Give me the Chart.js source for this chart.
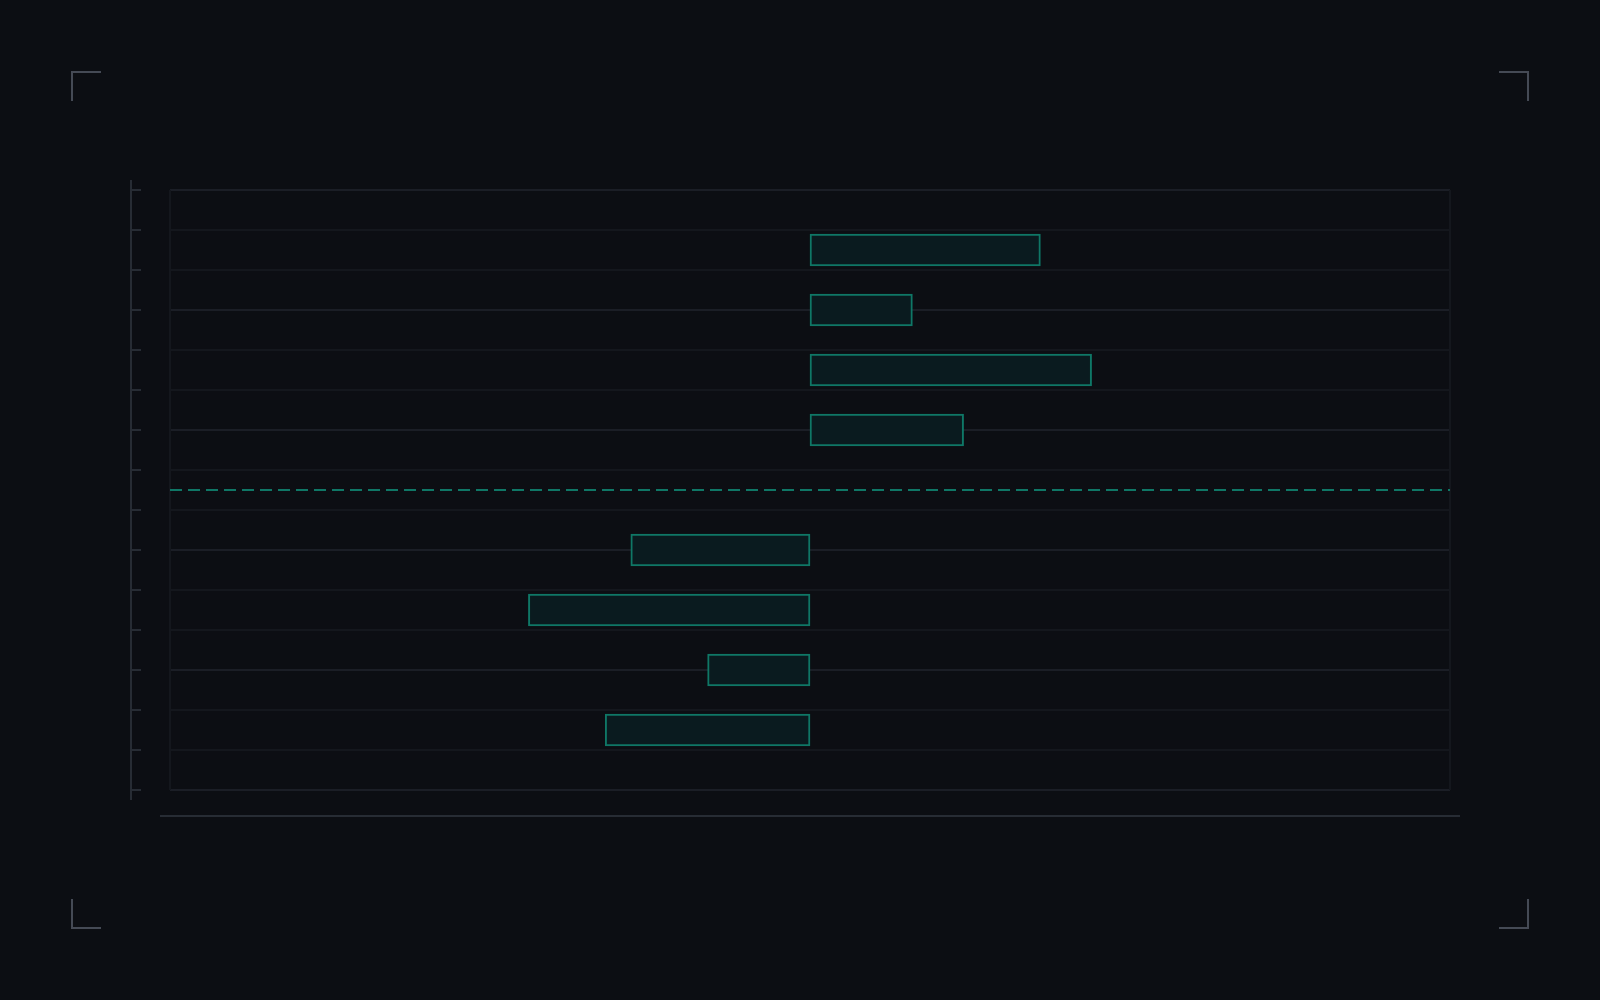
<!DOCTYPE html>
<html lang="en">
  <head>
    <meta charset="UTF-8" />
    <title>Chart</title>
    <script src="https://cdn.jsdelivr.net/npm/chart.js"></script>
    <style>
      html, body { margin: 0; padding: 0; background: #0c0e13; }
      #wrap { position: relative; width: 1600px; height: 1000px; }
      canvas { display: block; }
      .corner { position: absolute; width: 28px; height: 28px; border-color: #454a55; border-style: solid; border-width: 0; }
      .tl { left: 71px; top: 71px; border-left-width: 2px; border-top-width: 2px; }
      .tr { right: 71px; top: 71px; border-right-width: 2px; border-top-width: 2px; }
      .bl { left: 71px; bottom: 71px; border-left-width: 2px; border-bottom-width: 2px; }
      .br { right: 71px; bottom: 71px; border-right-width: 2px; border-bottom-width: 2px; }
    </style>
  </head>
  <body>
    <div id="wrap">
      <canvas id="chart" width="1600" height="1000"></canvas>
      <div class="corner tl"></div>
      <div class="corner tr"></div>
      <div class="corner bl"></div>
      <div class="corner br"></div>
    </div>

    <script>
      // rows from top to bottom, value is signed deviation from the centre line
      const categories = ["A", "B", "C", "D", "E", "F", "G", "H"];
      const rowPos = [9, 8, 7, 6, 4, 3, 2, 1];
      const values = [36, 16, 44, 24, -28, -44, -16, -32];
      const baseline = 5;
      // 16 grid/tick positions on the 0..10 row scale
      const yTicks = [0, 2/3, 4/3, 2, 8/3, 10/3, 4, 14/3, 16/3, 6, 20/3, 22/3, 8, 26/3, 28/3, 10];

      const teal = "#0f7766";
      const grid = "#14171d";
      const gridMajor = "#1b1e26";
      const axis = "#272c34";

      // frame, left axis with tick marks and the bottom rule
      const decor = {
        id: "decor",
        beforeDatasetsDraw(chart) {
          const { ctx, chartArea: a } = chart;
          ctx.save();
          ctx.strokeStyle = grid;
          ctx.lineWidth = 2;
          ctx.beginPath();
          ctx.moveTo(a.left, a.top); ctx.lineTo(a.left, a.bottom);
          ctx.moveTo(a.right, a.top); ctx.lineTo(a.right, a.bottom);
          ctx.stroke();
          ctx.restore();
        },
        afterDraw(chart) {
          const { ctx, chartArea: a, scales } = chart;
          const y = scales.y;
          ctx.save();
          ctx.strokeStyle = axis;
          ctx.lineWidth = 2;
          const ax = a.left - 39;
          ctx.beginPath();
          ctx.moveTo(ax, a.top - 10); ctx.lineTo(ax, a.bottom + 10);
          y.ticks.forEach(t => {
            const py = Math.round(y.getPixelForValue(t.value));
            ctx.moveTo(ax, py); ctx.lineTo(ax + 10, py);
          });
          ctx.moveTo(a.left - 10, a.bottom + 26); ctx.lineTo(a.right + 10, a.bottom + 26);
          ctx.stroke();
          ctx.restore();
        }
      };

      new Chart(document.getElementById("chart"), {
        type: "bar",
        data: {
          labels: categories,
          datasets: [
            {
              type: "line",
              data: [{ x: -100, y: baseline }, { x: 100, y: baseline }],
              borderColor: teal,
              borderWidth: 2,
              borderDash: [12, 6],
              pointRadius: 0,
              order: 0
            },
            {
              data: values.map((v, i) => ({ x: [0, v], y: rowPos[i] })),
              backgroundColor: "#0a1b1f",
              borderColor: teal,
              borderWidth: 2,
              borderSkipped: false,
              barThickness: 32,
              order: 1
            }
          ]
        },
        options: {
          indexAxis: "y",
          responsive: false,
          animation: false,
          layout: { padding: { left: 170, right: 150, top: 190, bottom: 210 } },
          plugins: { legend: { display: false }, tooltip: { enabled: false } },
          scales: {
            x: {
              type: "linear",
              display: false,
              min: -100,
              max: 100
            },
            y: {
              type: "linear",
              min: 0,
              max: 10,
              offset: false,
              afterBuildTicks: s => { s.ticks = yTicks.map(v => ({ value: v })); },
              ticks: { display: false },
              border: { display: false },
              grid: {
                offset: false,
                drawTicks: false,
                lineWidth: 2,
                color: c => (c.index % 3 === 0 ? gridMajor : grid)
              }
            }
          }
        },
        plugins: [decor]
      });
    </script>
  </body>
</html>
